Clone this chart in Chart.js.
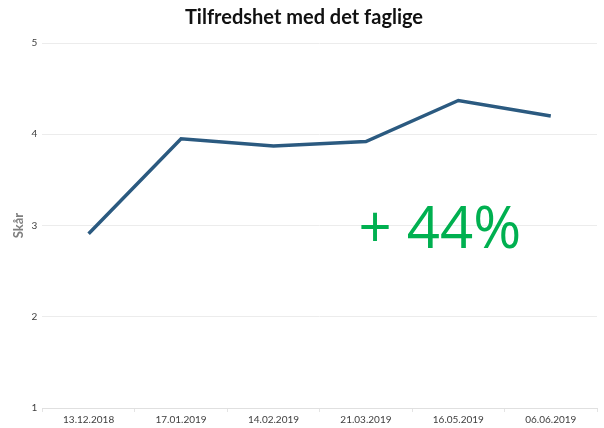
<!DOCTYPE html>
<html>
<head>
<meta charset="utf-8">
<script src="https://cdn.jsdelivr.net/npm/chart.js@4/dist/chart.umd.min.js"></script>
<style>
  html, body { margin: 0; padding: 0; background: #fff; }
  #wrap { width: 604px; height: 428px; }
</style>
</head>
<body>
<div id="wrap"><canvas id="myChart" width="604" height="428"></canvas></div>
<script>
const dates = ['13.12.2018', '17.01.2019', '14.02.2019', '21.03.2019', '16.05.2019', '06.06.2019'];
const scores = [2.91, 3.95, 3.87, 3.92, 4.37, 4.20];
const yTicks = [1, 2, 3, 4, 5];
const changeLabel = '+ 44%';

// big green change label, placed through the scales
const changeText = {
    id: 'changeText',
    afterDatasetsDraw(chart) {
        const { ctx, scales } = chart;
        const x = scales.x.getPixelForValue(3.8);
        const y = scales.y.getPixelForValue(2.93);
        ctx.save();
        ctx.font = '58px "Open Sans", sans-serif';
        ctx.fillStyle = '#00B050';
        ctx.textAlign = 'center';
        ctx.textBaseline = 'middle';
        ctx.fillText(changeLabel, x, y);
        ctx.restore();
    }
};

new Chart(document.getElementById('myChart').getContext('2d'), {
    type: 'line',
    data: {
        labels: dates,
        datasets: [{
            label: 'Skår',
            data: scores,
            borderColor: '#2B5A80',
            borderWidth: 3.5,
            pointRadius: 0,
            tension: 0,
            fill: false
        }]
    },
    options: {
        responsive: false,
        animation: false,
        layout: { padding: { left: 11, right: 7, top: 5, bottom: 0 } },
        plugins: {
            legend: { display: false },
            tooltip: { enabled: false },
            title: {
                display: true,
                text: 'Tilfredshet med det faglige',
                color: '#111',
                font: { family: 'Lato', size: 20, weight: 'bold' },
                padding: { top: 1, bottom: 13 }
            }
        },
        scales: {
            x: {
                offset: true,
                grid: { display: true, drawOnChartArea: false, offset: true, color: '#e4e4e4', tickLength: 4 },
                border: { color: '#e0e0e0' },
                ticks: { color: '#404040', font: { family: 'Lato', size: 10 }, maxRotation: 0, padding: 2 }
            },
            y: {
                min: 1,
                max: 5,
                afterBuildTicks(axis) { axis.ticks = yTicks.map(v => ({ value: v })); },
                grid: { color: '#ececec', drawTicks: false },
                border: { display: false },
                ticks: { color: '#404040', font: { family: 'Lato', size: 10 }, padding: 5 },
                title: {
                    display: true,
                    text: 'Skår',
                    color: '#7f7f7f',
                    font: { family: 'Lato', size: 13, weight: 'bold' },
                    padding: { top: 0, bottom: 0 }
                }
            }
        }
    },
    plugins: [changeText]
});
</script>
</body>
</html>
